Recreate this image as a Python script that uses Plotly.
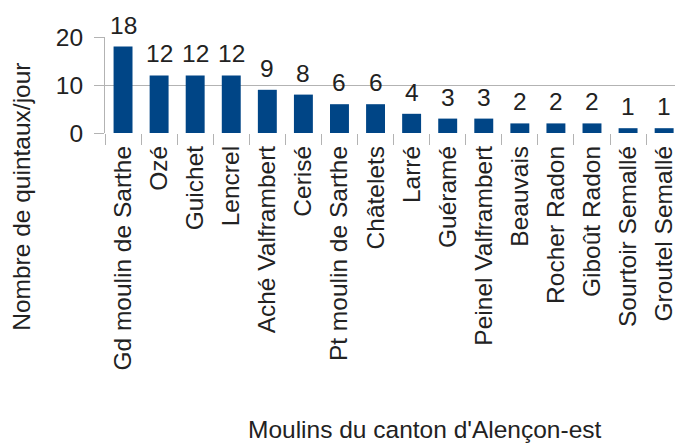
import plotly.graph_objects as go

# Moulins du canton d'Alençon-est et leur production journalière
moulins = [
    "Gd moulin de Sarthe", "Ozé", "Guichet", "Lencrel", "Aché Valframbert",
    "Cerisé", "Pt moulin de Sarthe", "Châtelets", "Larré", "Guéramé",
    "Peinel Valframbert", "Beauvais", "Rocher Radon", "Giboût Radon",
    "Sourtoir Semallé", "Groutel Semallé",
]
quintaux = [18, 12, 12, 12, 9, 8, 6, 6, 4, 3, 3, 2, 2, 2, 1, 1]
y_ticks = [0, 10, 20]

FONT = "Liberation Sans, Arial, sans-serif"
FS = 24.5
TEXT = "#222222"
GRID = "#b3b3b3"
BAR = "#004586"

W, H = 677, 443
L, T, B = 105, 37, 310
pw = W - L
ph = H - T - B
cat_w = 36.2


def px_to_paper(x, y):
    return (x - L) / pw, 1 - (y - T) / ph


fig = go.Figure(
    go.Bar(
        x=moulins,
        y=quintaux,
        marker=dict(color=BAR, line=dict(width=0)),
        cliponaxis=False,
    )
)

# valeurs au-dessus des barres
for m, q in zip(moulins, quintaux):
    fig.add_annotation(
        x=m, y=q, xref="x", yref="y", text=str(q), showarrow=False,
        yanchor="bottom", yshift=6,
        font=dict(family=FONT, size=FS, color=TEXT),
    )

yx, yy = px_to_paper(21, 196.5)
fig.add_annotation(
    x=yx, y=yy, xref="paper", yref="paper", text="Nombre de quintaux/jour",
    showarrow=False, textangle=-90, xanchor="center", yanchor="middle",
    font=dict(family=FONT, size=FS, color=TEXT),
)
tx, ty = px_to_paper(426.5, 429.5)
fig.add_annotation(
    x=tx, y=ty, xref="paper", yref="paper",
    text="Moulins du canton d'Alençon-est",
    showarrow=False, xanchor="center", yanchor="middle",
    font=dict(family=FONT, size=FS, color=TEXT),
)

fig.update_layout(
    width=W, height=H,
    margin=dict(l=L, r=0, t=T, b=B, pad=0),
    paper_bgcolor="white", plot_bgcolor="white",
    bargap=0.475,
    showlegend=False,
    font=dict(family=FONT, size=FS, color=TEXT),
)
fig.update_xaxes(
    range=[-0.5, -0.5 + pw / cat_w],
    tickangle=-90,
    ticks="outside", ticklen=11, tickcolor=GRID, tickwidth=1,
    tickson="boundaries",
    showgrid=False, showline=False, zeroline=False,
    ticklabelstandoff=7,
    tickfont=dict(family=FONT, size=FS, color=TEXT),
)
fig.update_yaxes(
    range=[0, 20], tickvals=y_ticks,
    ticks="outside", ticklen=10, tickcolor=GRID, tickwidth=1,
    showgrid=True, gridcolor=GRID, gridwidth=1,
    showline=True, linecolor=GRID, linewidth=1,
    zeroline=False,
    ticklabelstandoff=6,
    tickfont=dict(family=FONT, size=FS, color=TEXT),
)

fig.write_html("out.html")
